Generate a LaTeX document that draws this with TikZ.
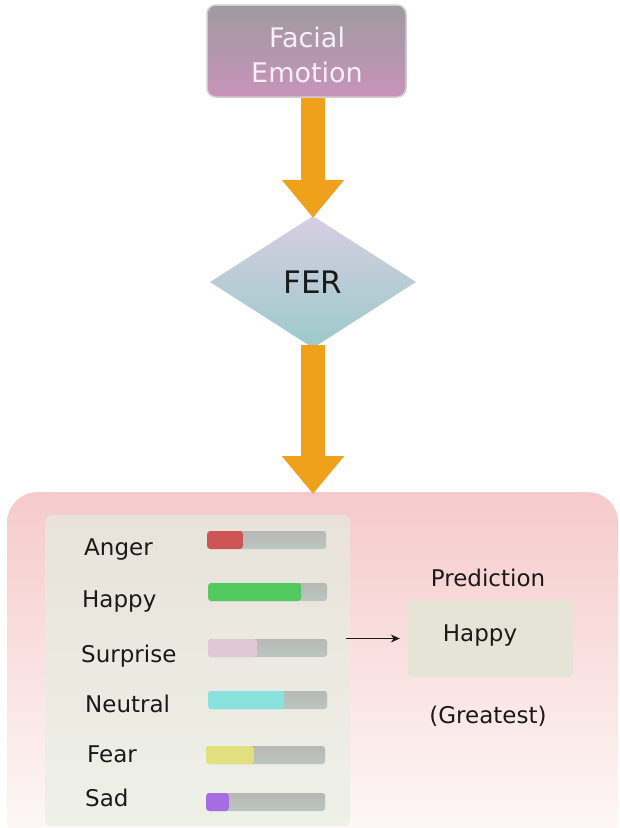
\documentclass[tikz,border=0pt]{standalone}
\usepackage{fontspec}
\setmainfont{DejaVu Sans}
\usetikzlibrary{shapes.geometric,arrows.meta}
\definecolor{boxtop}{HTML}{9E9AA0}
\definecolor{boxbot}{HTML}{C894BA}
\definecolor{boxline}{HTML}{D2CCD2}
\definecolor{diatop}{HTML}{D6CEE2}
\definecolor{diabot}{HTML}{9CCACA}
\definecolor{orng}{HTML}{F0A11C}
\definecolor{paneltop}{HTML}{F6CACA}
\definecolor{panelbot}{HTML}{FEFAFA}
\definecolor{innertop}{HTML}{E8E2DA}
\definecolor{innerbot}{HTML}{EEF1E8}
\definecolor{tracktop}{HTML}{B6B8B4}
\definecolor{trackbot}{HTML}{BCC6C2}
\definecolor{predfill}{HTML}{E6E4D6}
\definecolor{ink}{HTML}{1A1A1A}
\definecolor{fetext}{HTML}{F6F0F6}
\definecolor{cAnger}{HTML}{CC5454}
\definecolor{cHappy}{HTML}{52C95E}
\definecolor{cSurprise}{HTML}{E2C8D6}
\definecolor{cNeutral}{HTML}{8AE2DE}
\definecolor{cFear}{HTML}{E2E07E}
\definecolor{cSad}{HTML}{A46EE2}
\begin{document}
\begin{tikzpicture}[x=1pt,y=-1pt,
  fat/.style={draw=orng, line width=24pt, line cap=butt,
    -{Triangle[length=38pt,width=60pt]}},
  lbl/.style={anchor=base west, text=ink, inner sep=0pt, font=\fontsize{23}{26}\selectfont},
  txt/.style={text=ink, font=\fontsize{23}{26}\selectfont},
  track/.style={anchor=west, minimum width=119pt, minimum height=18pt, inner sep=0pt,
    rounded corners=3pt, top color=tracktop, bottom color=trackbot},
  barfill/.style={anchor=west, minimum height=18pt, inner sep=0pt, rounded corners=3pt}]
\useasboundingbox (0,0) rectangle (619,828);
\fill[white] (0,0) rectangle (619,828);

% top box
\node[rounded corners=9pt, top color=boxtop, bottom color=boxbot, draw=boxline, line width=1.5pt,
  minimum width=199pt, minimum height=92pt, inner sep=0pt] (fe) at (306.5,51) {};
\node[align=center, inner sep=0pt, text=fetext, font=\fontsize{27}{35}\selectfont] (fetxt) at (307,55) {Facial\\Emotion};

% diamond
\node[diamond, aspect=1.56, minimum width=206pt, minimum height=132pt, inner sep=0pt,
  top color=diatop, bottom color=diabot, text=ink, font=\fontsize{31}{34}\selectfont] (fer) at (313,282) {FER};

% bottom panel
\node[anchor=north west, rounded corners=30pt, minimum width=611pt, minimum height=360pt, inner sep=0pt,
  top color=paneltop, bottom color=panelbot] (panel) at (7,492) {};

% arrows
\draw[fat] (fe.south -| fer.north) -- ([yshift=-2pt]fer.north);
\draw[fat] ([yshift=3pt]fer.south) -- ([yshift=-2pt]panel.north -| fer.south);

% inner list panel
\node[anchor=north west, minimum width=305pt, minimum height=311pt, inner sep=0pt, rounded corners=6pt,
  top color=innertop, bottom color=innerbot] (list) at (45,515) {};

% labels
\node[lbl] (lAnger) at (84,555) {Anger};
\node[lbl] (lHappy) at (82,607) {Happy};
\node[lbl] (lSurprise) at (81,662) {Surprise};
\node[lbl] (lNeutral) at (85,712) {Neutral};
\node[lbl] (lFear) at (87,762) {Fear};
\node[lbl] (lSad) at (85,806) {Sad};

% bars
\foreach \nm/\yy/\f/\xx in {Anger/540/0.30/207, Happy/592/0.78/208, Surprise/648/0.41/208,
  Neutral/700/0.64/208, Fear/755/0.40/206, Sad/802/0.19/206}{
  \node[track] (t\nm) at (\xx,\yy) {};
  \node[barfill, minimum width=\f*119pt, fill=c\nm] (f\nm) at (\xx,\yy) {};
}

% prediction
\node[txt] (predlbl) at (488,578) {Prediction};
\node[minimum width=165pt, minimum height=77pt, inner sep=0pt, rounded corners=4pt, fill=predfill] (pred) at (490.5,638.5) {};
\node[txt] (predtxt) at (480,636) {Happy};
\node[txt] (great) at (488,716) {(Greatest)};

\draw[ink, line width=1pt, -{Stealth[length=9pt,width=8pt]}] ([xshift=-4pt]list.east |- pred.west) -- ([xshift=-8pt]pred.west);
\end{tikzpicture}
\end{document}
